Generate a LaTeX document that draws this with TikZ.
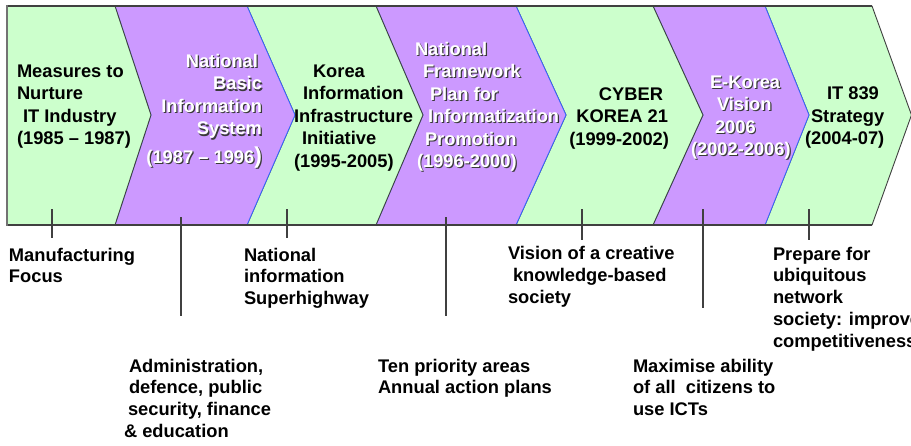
\documentclass[tikz,border=0pt]{standalone}
\usepackage{fontspec}
\setmainfont{Liberation Sans}
\definecolor{grn}{HTML}{CCFFCC}
\definecolor{prp}{HTML}{CC99FF}
\definecolor{edgec}{HTML}{404040}
\definecolor{blu}{HTML}{3366FF}
\definecolor{shadowc}{HTML}{3A3A3A}
\newcommand\blkl[1]{\begin{tabular}[t]{@{}l@{}}#1\end{tabular}}
\newcommand\blkr[1]{\begin{tabular}[t]{@{}r@{}}#1\end{tabular}}
\tikzset{
  gshape/.style={fill=grn, draw=edgec, line width=0.9pt, line join=miter},
  pshape/.style={fill=prp, draw=blu, line width=0.8pt, line join=miter},
  txt/.style={inner sep=0pt, outer sep=0pt, font=\bfseries\fontsize{18.3}{22.5}\selectfont},
  low/.style={inner sep=0pt, outer sep=0pt, anchor=base west, font=\bfseries\fontsize{18.3}{21.8}\selectfont},
  tick/.style={draw=black!75, line width=1.1pt}
}
\newcommand\wtext[4]{%
  \node[txt,#3,text=shadowc] (#2s) at ([shift={(1.2pt,-1.2pt)}]#1) {#4};
  \node[txt,#3,text=white] (#2) at (#1) {#4};}
\begin{document}
\begin{tikzpicture}[x=1pt,y=-1pt]
\useasboundingbox (0,0) rectangle (911,445);
% chevrons, right to left
\draw[gshape] (765,6) -- (872,6) -- (911.5,115) -- (872,225) -- (765,225) -- (809,115) -- cycle;
\draw[pshape] (653,6) -- (765,6) -- (809,115) -- (765,225) -- (653,225) -- (703,115) -- cycle;
\draw[gshape] (516,6) -- (653,6) -- (703,115) -- (653,225) -- (516,225) -- (566,115) -- cycle;
\draw[pshape] (376,6) -- (516,6) -- (566,115) -- (516,225) -- (376,225) -- (423,115) -- cycle;
\draw[gshape] (247,6) -- (376,6) -- (423,115) -- (376,225) -- (247,225) -- (295,115) -- cycle;
\draw[pshape] (115,6) -- (247,6) -- (295,115) -- (247,225) -- (115,225) -- (151,115) -- cycle;
\draw[gshape] (7,6) -- (115,6) -- (151,115) -- (115,225) -- (7,225) -- cycle;
\draw[edgec, line width=1.3pt] (7,6) -- (872,6);
\draw[edgec, line width=1.1pt] (7,225) -- (872,225);
\draw[black!55, line width=2.2pt] (7,5) -- (7,226);

% band texts
\node[txt, anchor=base west] (b1) at (17,77.3) {\blkl{Measures to\\Nurture\\\hspace*{6pt}IT Industry\\(1985 – 1987)}};
\wtext{262,67.3}{b2}{anchor=base east}{\blkr{National\hspace*{4pt}\\Basic\\Information\\System\\[5.5pt](1987 – 1996{\fontsize{23}{23}\selectfont)}}}
\node[txt, anchor=base west] (b3) at (294,77) {\blkl{\hspace*{19pt}Korea\\\hspace*{9pt}Information\\Infrastructure\\\hspace*{8pt}Initiative\\(1995-2005)}};
\wtext{415,55}{b4}{anchor=base west}{\blkl{National\\\hspace*{8pt}Framework\\\hspace*{15pt}Plan for\\\hspace*{13pt}Informatization\\\hspace*{10pt}Promotion\\\hspace*{2pt}(1996-2000)}}
\node[txt, anchor=base east] (b5) at (669,100) {\blkr{CYBER\hspace*{6pt}\\KOREA 21\hspace*{1pt}\\(1999-2002)}};
\wtext{691,88}{b6}{anchor=base west}{\blkl{\hspace*{19pt}E-Korea\\\hspace*{26pt}Vision\\\hspace*{24pt}2006\\(2002-2006)}}
\node[txt, anchor=base west] (b7) at (805,99.5) {\blkl{\hspace*{22pt}IT 839\\\hspace*{6pt}Strategy\\(2004-07)}};

% lower texts
\node[low] (l1) at (9,261) {\blkl{Manufacturing\\Focus}};
\node[low] (l2) at (244,261) {\blkl{National\\information\\Superhighway}};
\node[low] (l3) at (124,372) {\blkl{\hspace*{5pt}Administration,\\\hspace*{5pt}defence, public\\\hspace*{4pt}security, finance\\\& education}};
\node[low] (l4) at (378,372) {\blkl{Ten priority areas\\Annual action plans}};
\node[low] (l5) at (508,259.5) {\blkl{Vision of a creative\\\hspace*{5pt}knowledge-based\\society}};
\node[low] (l6) at (633,372) {\blkl{Maximise ability\\of all\ \ citizens to\\use ICTs}};
\node[low] (l7) at (773,260) {\blkl{Prepare for\\ubiquitous\\network\\society: improve\\competitiveness}};

% ticks
\coordinate (t1a) at (52,209);  \coordinate (t1b) at (52,238);
\coordinate (t2a) at (181,217); \coordinate (t2b) at (181,316);
\coordinate (t3a) at (287,209); \coordinate (t3b) at (287,238);
\coordinate (t4a) at (446,217); \coordinate (t4b) at (446,316);
\coordinate (t5a) at (582,209); \coordinate (t5b) at (582,240);
\coordinate (t6a) at (703,209); \coordinate (t6b) at (703,308);
\coordinate (t7a) at (809,209); \coordinate (t7b) at (809,240);
\foreach \i in {1,...,7} {\draw[tick] (t\i a) -- (t\i b);}
\end{tikzpicture}
\end{document}
